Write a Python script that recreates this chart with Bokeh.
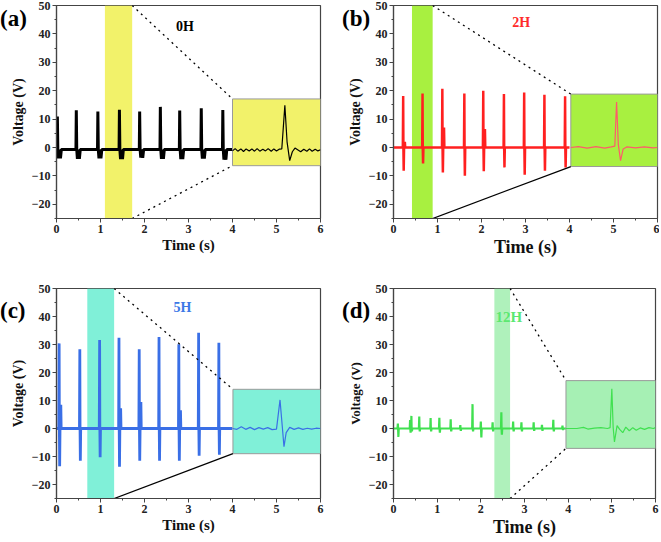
from bokeh.plotting import figure
from bokeh.models import FixedTicker, Label, Range1d, GridBox, Div
from bokeh.embed import file_html
from bokeh.resources import INLINE

# ---------------- data ----------------
x_ticks = [0, 1, 2, 3, 4, 5, 6]
x_minor = [0.5, 1.5, 2.5, 3.5, 4.5, 5.5]
y_ticks = [-20, -10, 0, 10, 20, 30, 40, 50]
y_minor = [-25, -15, -5, 5, 15, 25, 35, 45]

# (a) 0H
a_times = [0.02, 0.45, 0.94, 1.43, 1.89, 2.36, 2.80, 3.29, 3.78]
a_peaks = [10.9, 13.1, 12.7, 13.3, 12.7, 14.3, 13.0, 13.8, 13.2]
a_troughs = [-3.8, -4.0, -3.8, -4.1, -3.6, -4.0, -4.1, -3.9, -4.3]
a_base = -0.7
a_band = [1.1, 1.72]
a_box = [4.0, 17.1, -6.4]
a_ins_t = [4.0, 4.06, 4.12, 4.19, 4.25, 4.31, 4.38, 4.44, 4.5, 4.56, 4.62, 4.69,
           4.75, 4.81, 4.88, 4.94, 5.0, 5.06, 5.12, 5.15, 5.19, 5.24, 5.3, 5.36,
           5.42, 5.48, 5.55, 5.62, 5.69, 5.75, 5.81, 5.88, 5.94, 6.0]
a_ins_v = [-1.2, -0.4, -1.3, -0.5, -1.4, -0.5, -1.2, -0.5, -1.3, -0.4, -1.3, -0.6,
           -1.2, -0.4, -1.3, -0.5, -1.2, -0.6, -0.5, 6.0, 14.9, 2.0, -4.6, -1.5,
           -0.2, -0.8, -1.5, -0.6, -1.3, -0.5, -1.3, -0.6, -1.2, -0.8]

# (b) 2H
b_times = [0.22, 0.66, 1.11, 1.61, 2.04, 2.51, 2.97, 3.43, 3.90]
b_peaks = [18.1, 19.0, 20.7, 19.0, 20.0, 18.8, 19.4, 18.6, 18.0]
b_troughs = [-8.2, -5.6, -8.8, -9.9, -8.4, -7.0, -9.6, -8.2, -7.0]
b_second = [2.0, 0.0, 7.0, 0.0, 6.5, 0.0, 0.0, 0.0, 0.0]
b_band = [0.42, 0.89]
b_box = [4.03, 18.8, -6.7]
b_ins_t = [4.03, 4.2, 4.4, 4.6, 4.8, 4.95, 5.03, 5.07, 5.11, 5.16, 5.22, 5.3,
           5.5, 5.7, 5.9, 6.0]
b_ins_v = [0.0, 0.3, -0.2, 0.3, -0.2, 0.2, 0.5, 16.0, 1.0, -4.6, -0.5, 0.2,
           -0.1, 0.2, -0.1, 0.0]

# (c) 5H
c_times = [0.06, 0.53, 0.98, 1.42, 1.88, 2.33, 2.78, 3.23, 3.69]
c_peaks = [30.4, 28.3, 31.6, 32.4, 28.3, 32.7, 30.1, 34.2, 30.6]
c_troughs = [-13.5, -11.5, -10.3, -13.7, -11.5, -11.5, -11.5, -9.7, -9.4]
c_second = [8.5, 0.0, 0.0, 7.2, 9.5, 0.0, 6.5, 0.0, 0.0]
c_band = [0.70, 1.31]
c_box = [4.01, 14.0, -9.0]
c_ins_t = [4.0, 4.1, 4.2, 4.3, 4.4, 4.5, 4.6, 4.7, 4.8, 4.9, 5.0, 5.08, 5.13,
           5.17, 5.22, 5.3, 5.4, 5.5, 5.6, 5.7, 5.8, 5.9, 6.0]
c_ins_v = [0.0, -0.3, 0.6, -0.3, 0.4, -0.4, 0.3, -0.2, 0.3, -0.4, -0.2, 10.2, 1.0,
           -6.5, -1.5, 0.4, -0.3, 0.2, -0.3, 0.1, -0.2, 0.1, 0.0]

# (d) 12H
d_times = [0.10, 0.38, 0.41, 0.59, 0.85, 1.05, 1.31, 1.53, 1.81, 2.00, 2.27, 2.47,
           2.74, 2.93, 3.21, 3.40, 3.66, 3.87]
d_peaks = [1.8, 3.0, 4.5, 4.3, 3.7, 3.8, 3.3, 1.2, 8.7, 2.5, 2.2, 5.8,
           2.5, 2.2, 2.2, 1.3, 3.1, 1.0]
d_troughs = [-3.0, -1.5, -1.0, -1.0, -1.0, -1.5, -1.0, -0.8, -1.0, -3.2, -1.0, -2.2,
             -1.0, -1.0, -0.8, -0.8, -1.0, -0.5]
d_band = [2.31, 2.67]
d_box = [3.95, 17.1, -7.1]
d_ins_t = [3.95, 4.2, 4.35, 4.45, 4.6, 4.75, 4.9, 4.96, 5.0, 5.03, 5.06, 5.12,
           5.18, 5.25, 5.32, 5.4, 5.48, 5.56, 5.65, 5.75, 5.85, 5.95, 6.0]
d_ins_v = [0.0, 0.0, 0.4, -0.2, 0.1, 0.3, 0.0, 0.3, 14.2, 0.5, -4.8, 1.0,
           -0.3, -1.5, 0.5, -0.8, 0.3, -0.6, 0.2, -0.3, 0.3, 0.0, 0.3]

panel_tags = ["(a)", "(b)", "(c)", "(d)"]
panel_names = ["0H", "2H", "5H", "12H"]

FONT = "Liberation Serif"


def wave_a(times, peaks, troughs, base, end):
    xs, ys = [0.0], [base]
    for t, pk, tr in zip(times, peaks, troughs):
        xs += [t - 0.008, t, t + 0.01, t + 0.025, t + 0.04, t + 0.07, t + 0.09]
        ys += [base, pk, base, tr, base, tr, base]
    xs.append(end)
    ys.append(base)
    return xs, ys


def wave(times, peaks, troughs, seconds, base, end):
    xs, ys = [0.0], [base]
    for t, pk, tr, s in zip(times, peaks, troughs, seconds):
        xs += [t - 0.008, t, t + 0.005, t + 0.012, t + 0.02, t + 0.03, t + 0.038, t + 0.046]
        ys += [base, pk, base, tr, base, base, s, base]
    xs.append(end)
    ys.append(base)
    return xs, ys


def make_panel(fw, fh, bl, br, bt, bb, name, name_xy, name_color, name_size,
               band, band_color, band_alpha, box, box_color, main_xy, main_color,
               main_width, ins_t, ins_v, ins_color, top_dash, bot_dash,
               xtitle_size, ytitle_size):
    p = figure(frame_width=fw, frame_height=fh, output_backend="svg",
               toolbar_location=None,
               x_range=Range1d(0, 6), y_range=Range1d(-25, 50),
               min_border_left=bl, min_border_right=br, min_border_top=bt,
               min_border_bottom=bb)
    p.xgrid.visible = False
    p.ygrid.visible = False
    p.background_fill_color = "white"
    p.border_fill_color = "white"
    p.outline_line_color = "#444444"
    p.outline_line_width = 1.2

    p.quad(left=[band[0]], right=[band[1]], top=[50], bottom=[-25],
           fill_color=band_color, fill_alpha=band_alpha, line_color=None)
    p.line(main_xy[0], main_xy[1], line_color=main_color, line_width=main_width)
    p.quad(left=[box[0]], right=[6], top=[box[1]], bottom=[box[2]],
           fill_color=box_color, fill_alpha=1.0, line_color="#9a9a9a", line_width=1)
    p.line(ins_t, ins_v, line_color=ins_color, line_width=1.2)
    p.line([band[1], box[0]], [50, box[1]], line_color="black", line_width=1.3,
           line_dash=top_dash)
    p.line([band[1], box[0]], [-25, box[2]], line_color="black", line_width=1.3,
           line_dash=bot_dash)

    p.add_layout(Label(x=name_xy[0], y=name_xy[1], text=name, text_font=FONT,
                       text_font_style="bold", text_font_size=name_size,
                       text_color=name_color, text_align="center",
                       text_baseline="middle"))

    p.xaxis.ticker = FixedTicker(ticks=x_ticks, minor_ticks=x_minor)
    p.yaxis.ticker = FixedTicker(ticks=y_ticks, minor_ticks=y_minor)
    p.xaxis.axis_label = "Time (s)"
    p.yaxis.axis_label = "Voltage (V)"
    for ax, size in ((p.xaxis, xtitle_size), (p.yaxis, ytitle_size)):
        ax.axis_label_text_font = FONT
        ax.axis_label_text_font_style = "bold"
        ax.axis_label_text_font_size = size
        ax.axis_label_text_color = "#111111"
        ax.major_label_text_font = FONT
        ax.major_label_text_font_style = "bold"
        ax.major_label_text_font_size = "12px"
        ax.major_label_text_color = "#222222"
        ax.axis_line_color = "#444444"
        ax.axis_line_width = 1.2
        ax.major_tick_line_color = "#444444"
        ax.minor_tick_line_color = "#444444"
        ax.major_tick_in = 0
        ax.major_tick_out = 4
        ax.minor_tick_in = 0
        ax.minor_tick_out = 2
        ax.major_label_standoff = 2
    p.xaxis.axis_label_standoff = 1
    p.yaxis.axis_label_standoff = 3
    return p


def tag_div(text, top, left):
    return Div(text=text, width=34, height=28, margin=(top, 0, 0, left),
               styles={"position": "relative", "z-index": "10",
                       "font-family": FONT, "font-weight": "bold",
                       "font-size": "23px", "line-height": "1",
                       "color": "black", "pointer-events": "none"})


pa = make_panel(264, 213, 51, 27, 5, 44, panel_names[0], (2.92, 42.5), "black", "14px",
                a_band, "#f2f26a", 1.0, a_box, "#f2f26a",
                wave_a(a_times, a_peaks, a_troughs, a_base, 4.0), "black", 3.0,
                a_ins_t, a_ins_v, "black", "dotted", "dotted", "15px", "14px")

pb = make_panel(264, 213, 50, 3, 5, 44, panel_names[1], (2.9, 44.0), "#ff2a2a", "14px",
                b_band, "#a8f040", 1.0, b_box, "#a8f040",
                wave(b_times, b_peaks, b_troughs, b_second, 0.0, 4.0), "#ff2020", 2.5,
                b_ins_t, b_ins_v, "#ff5a6a", "dotted", "solid", "18px", "14px")

pc = make_panel(264, 210, 56, 22, 26, 44, panel_names[2], (2.86, 43.3), "#3c78e6", "14px",
                c_band, "#80f0d8", 1.0, c_box, "#80f0d8",
                wave(c_times, c_peaks, c_troughs, c_second, 0.0, 4.0), "#3a6fe6", 2.8,
                c_ins_t, c_ins_v, "#3a6fe6", "dotted", "solid", "15px", "14px")

pd = make_panel(262, 210, 51, 4, 26, 44, panel_names[3], (2.64, 40.0), "#5ce870", "15px",
                d_band, "#a6f0b4", 0.9, d_box, "#a6f0b4",
                wave(d_times, d_peaks, d_troughs, [0.0] * len(d_times), 0.0, 3.95), "#40e050", 2.2,
                d_ins_t, d_ins_v, "#40e050", "dotted", "dotted", "18px", "13px")

grid = GridBox(children=[
    (pa, 0, 0), (pb, 0, 1), (pc, 1, 0), (pd, 1, 1),
    (tag_div(panel_tags[0], 7, 0), 0, 0),
    (tag_div(panel_tags[1], 7, 0), 0, 1),
    (tag_div(panel_tags[2], 37, 0), 1, 0),
    (tag_div(panel_tags[3], 37, 0), 1, 1),
])
open("out.html", "w").write(file_html(grid, INLINE))
